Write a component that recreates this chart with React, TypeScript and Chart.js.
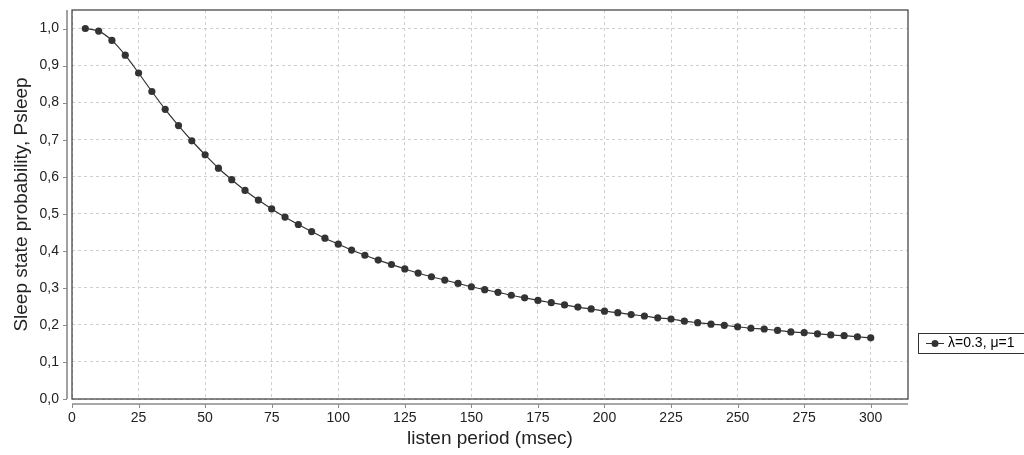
import React, { useEffect, useRef } from "react";
import { Chart, registerables } from "chart.js";

Chart.register(...registerables);

const listenPeriods = [
  5, 10, 15, 20, 25, 30, 35, 40, 45, 50, 55, 60, 65, 70, 75, 80, 85, 90, 95, 100,
  105, 110, 115, 120, 125, 130, 135, 140, 145, 150, 155, 160, 165, 170, 175, 180, 185, 190, 195, 200,
  205, 210, 215, 220, 225, 230, 235, 240, 245, 250, 255, 260, 265, 270, 275, 280, 285, 290, 295, 300,
];

const psleep = [
  1.0, 0.993, 0.968, 0.928, 0.88, 0.83, 0.782, 0.738, 0.697, 0.659, 0.623, 0.592, 0.563, 0.537, 0.513, 0.491, 0.471, 0.452, 0.434, 0.418,
  0.402, 0.388, 0.375, 0.363, 0.351, 0.34, 0.33, 0.321, 0.312, 0.303, 0.295, 0.288, 0.28, 0.273, 0.266, 0.26, 0.254, 0.248, 0.243, 0.237,
  0.233, 0.228, 0.224, 0.219, 0.216, 0.21, 0.206, 0.202, 0.199, 0.195, 0.191, 0.189, 0.185, 0.181, 0.179, 0.176, 0.173, 0.171, 0.168, 0.165,
];

const seriesLabel = "λ=0.3, μ=1";
const xTitle = "listen period (msec)";
const yTitle = "Sleep state probability, Psleep";
const xTickStep = 25;
const yTickStep = 0.1;

const FONT = "'Liberation Sans', Arial, sans-serif";

const framePlugin = {
  id: "frame",
  afterDraw(chart: any) {
    const { ctx, chartArea: a, scales } = chart;
    const xs = scales.x;
    const ys = scales.y;
    ctx.save();
    // plot border
    ctx.strokeStyle = "#3a3a3a";
    ctx.lineWidth = 1.2;
    ctx.strokeRect(a.left, a.top, a.right - a.left, a.bottom - a.top);
    // offset axis lines
    ctx.strokeStyle = "#8a8a8a";
    ctx.lineWidth = 1.6;
    const yAxisX = a.left - 5;
    const xAxisY = a.bottom + 5;
    ctx.beginPath();
    ctx.moveTo(yAxisX, a.top);
    ctx.lineTo(yAxisX, a.bottom);
    ctx.moveTo(a.left, xAxisY);
    ctx.lineTo(a.right, xAxisY);
    ctx.stroke();
    ctx.lineWidth = 1;
    ctx.beginPath();
    ys.ticks.forEach((t: any) => {
      const p = Math.round(ys.getPixelForValue(t.value)) + 0.5;
      ctx.moveTo(yAxisX - 4, p);
      ctx.lineTo(yAxisX, p);
    });
    xs.ticks.forEach((t: any) => {
      const p = Math.round(xs.getPixelForValue(t.value)) + 0.5;
      ctx.moveTo(p, xAxisY);
      ctx.lineTo(p, xAxisY + 4);
    });
    ctx.stroke();

    // legend box
    const lx = a.right + 10;
    const ly = 333;
    const lh = 20;
    ctx.fillStyle = "#ffffff";
    ctx.fillRect(lx, ly, 130, lh);
    ctx.strokeStyle = "#333333";
    ctx.lineWidth = 1;
    ctx.strokeRect(lx + 0.5, ly + 0.5, 130, lh);
    const cy = ly + lh / 2 + 0.5;
    ctx.strokeStyle = "#333333";
    ctx.beginPath();
    ctx.moveTo(lx + 8, cy);
    ctx.lineTo(lx + 26, cy);
    ctx.stroke();
    ctx.fillStyle = "#333333";
    ctx.beginPath();
    ctx.arc(lx + 17, cy, 3.5, 0, Math.PI * 2);
    ctx.fill();
    ctx.fillStyle = "#000000";
    ctx.font = `14px ${FONT}`;
    ctx.textBaseline = "middle";
    ctx.textAlign = "left";
    ctx.fillText(seriesLabel, lx + 30, cy);
    ctx.restore();
  },
};

export default function App() {
  const ref = useRef<HTMLCanvasElement | null>(null);

  useEffect(() => {
    document.body.style.margin = "0";
    if (!ref.current) return;
    const chart = new Chart(ref.current, {
      type: "line",
      data: {
        datasets: [
          {
            label: seriesLabel,
            data: listenPeriods.map((x, i) => ({ x, y: psleep[i] })),
            borderColor: "#333333",
            backgroundColor: "#333333",
            borderWidth: 1.2,
            pointRadius: 3.6,
            pointBorderWidth: 0,
            pointBackgroundColor: "#333333",
            tension: 0.3,
            fill: false,
          },
        ],
      },
      options: {
        animation: false,
        responsive: false,
        devicePixelRatio: 1,
        layout: { padding: { top: 10, right: 116, left: 0, bottom: 0 } },
        plugins: { legend: { display: false }, tooltip: { enabled: false } },
        scales: {
          x: {
            type: "linear",
            min: 0,
            max: 314,
            afterBuildTicks: (s: any) => {
              s.ticks = s.ticks.filter((t: any) => Math.abs(t.value / xTickStep - Math.round(t.value / xTickStep)) < 1e-6);
            },
            afterFit: (s: any) => {
              s.height = 56;
              s.paddingLeft = 0;
              s.paddingRight = 0;
            },
            ticks: {
              stepSize: xTickStep,
              padding: 11,
              color: "#222",
              font: { family: FONT, size: 14 },
              maxRotation: 0,
              autoSkip: false,
            },
            grid: { color: "#cfcfcf", lineWidth: 1, drawTicks: false },
            border: { display: false, dash: [3, 3] },
            title: {
              display: true,
              text: xTitle,
              color: "#222",
              font: { family: FONT, size: 19 },
              padding: { top: 0, bottom: 5 },
            },
          },
          y: {
            type: "linear",
            min: 0,
            max: 1.05,
            afterBuildTicks: (s: any) => {
              s.ticks = s.ticks.filter((t: any) => Math.abs(t.value / yTickStep - Math.round(t.value / yTickStep)) < 1e-6);
            },
            afterFit: (s: any) => {
              s.width = 72;
              s.paddingTop = 0;
              s.paddingBottom = 0;
            },
            ticks: {
              stepSize: yTickStep,
              padding: 13,
              color: "#222",
              font: { family: FONT, size: 14 },
              callback: (v: any) => Number(v).toFixed(1).replace(".", ","),
            },
            grid: { color: "#cfcfcf", lineWidth: 1, drawTicks: false },
            border: { display: false, dash: [3, 3] },
            title: {
              display: true,
              text: yTitle,
              color: "#222",
              font: { family: FONT, size: 19 },
              padding: { top: 10, bottom: 0 },
            },
          },
        },
      },
      plugins: [framePlugin],
    });
    return () => chart.destroy();
  }, []);

  return (
    <div style={{ position: "absolute", left: 0, top: 0, width: 1024, height: 455, background: "#fff" }}>
      <canvas ref={ref} width={1024} height={455} />
    </div>
  );
}
